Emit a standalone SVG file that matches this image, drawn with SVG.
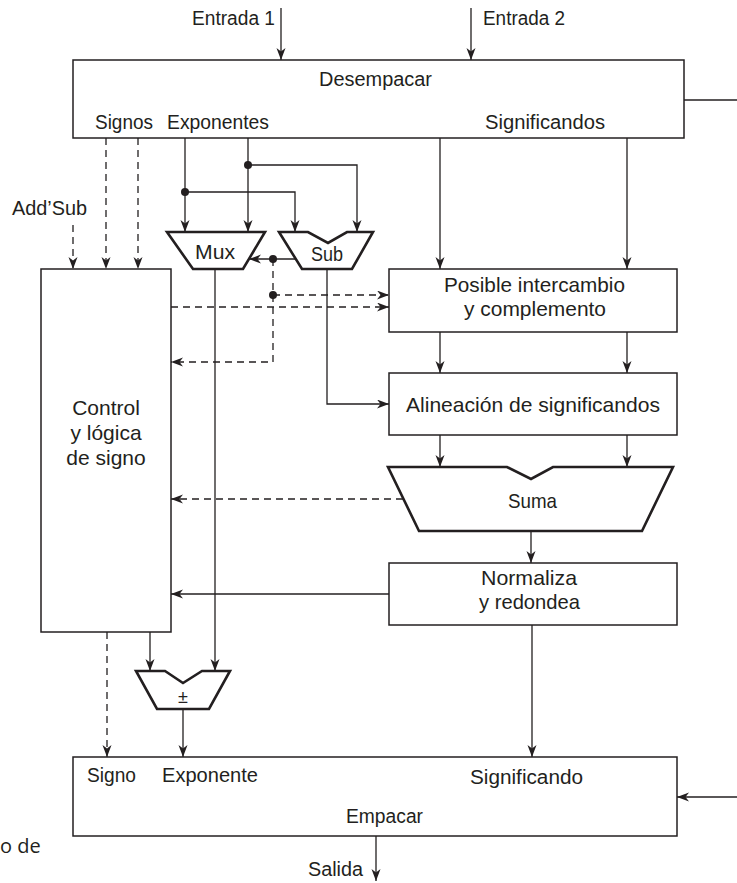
<svg xmlns="http://www.w3.org/2000/svg" width="737" height="883" viewBox="0 0 737 883">
<style>
text{font-family:"Liberation Sans",Arial,sans-serif;font-size:20px;fill:#231f20}
.m{font-size:21px}
.c{text-anchor:middle}
.box{fill:#fff;stroke:#231f20;stroke-width:1.5}
.trap{fill:#fff;stroke:#231f20;stroke-width:2.6;stroke-linejoin:miter}
.ln{fill:none;stroke:#231f20;stroke-width:1.3}
.da{fill:none;stroke:#231f20;stroke-width:1.3;stroke-dasharray:7 5}
.ar{marker-end:url(#ah)}
.dot{fill:#231f20}
</style>
<defs>
<marker id="ah" markerUnits="userSpaceOnUse" markerWidth="13" markerHeight="10" refX="12" refY="4.5" orient="auto">
<path d="M0,0 L12,4.5 L0,9 L3.5,4.5 Z" fill="#231f20"/>
</marker>
</defs>
<rect width="737" height="883" fill="#fff"/>

<g id="connectors">
<path class="ln ar" d="M281,8 V60"/>
<path class="ln ar" d="M471,8 V60"/>
<path class="ln" d="M684,100 H737"/>
<path class="ln ar" d="M185,138 V232"/>
<path class="ln ar" d="M248,138 V232"/>
<path class="ln ar" d="M248,165 H357 V232"/>
<path class="ln ar" d="M185,192 H295 V232"/>
<path class="ln ar" d="M296,259 H249"/>
<path class="ln ar" d="M440,138 V269"/>
<path class="ln ar" d="M627,138 V269"/>
<path class="ln ar" d="M440,332 V373"/>
<path class="ln ar" d="M627,332 V373"/>
<path class="ln ar" d="M327,269 V404 H389"/>
<path class="ln ar" d="M440,435 V467"/>
<path class="ln ar" d="M627,435 V467"/>
<path class="ln ar" d="M531,531 V563"/>
<path class="ln ar" d="M389,594 H171"/>
<path class="ln ar" d="M532,625 V757"/>
<path class="ln ar" d="M215,269 V671"/>
<path class="ln ar" d="M150,632 V671"/>
<path class="ln ar" d="M183,709 V757"/>
<path class="ln ar" d="M737,797 H677"/>
<path class="ln ar" d="M376,836 V881"/>
<path class="da ar" d="M73,225 V269"/>
<path class="da ar" d="M106,138 V269"/>
<path class="da ar" d="M138,138 V269"/>
<path class="da ar" d="M273,259 V362 H171"/>
<path class="da ar" d="M273,295 H389"/>
<path class="da ar" d="M171,307 H389"/>
<path class="da ar" d="M403,499 H171"/>
<path class="da ar" d="M107,632 V757"/>
<circle class="dot" cx="248" cy="165" r="4"/>
<circle class="dot" cx="185" cy="192" r="4"/>
<circle class="dot" cx="273" cy="259" r="4"/>
<circle class="dot" cx="273" cy="295" r="4"/>
</g>

<g id="inputs">
<text x="192" y="25" textLength="83" lengthAdjust="spacingAndGlyphs">Entrada 1</text>
<text x="483" y="25" textLength="82" lengthAdjust="spacingAndGlyphs">Entrada 2</text>
<text x="12" y="215" textLength="75" lengthAdjust="spacingAndGlyphs">Add’Sub</text>
</g>

<g id="desempacar">
<rect class="box" x="73" y="60" width="611" height="78"/>
<text x="319" y="86" textLength="113" lengthAdjust="spacingAndGlyphs">Desempacar</text>
<text x="95" y="129" textLength="58" lengthAdjust="spacingAndGlyphs">Signos</text>
<text x="167" y="129" textLength="102" lengthAdjust="spacingAndGlyphs">Exponentes</text>
<text x="485" y="129" textLength="120" lengthAdjust="spacingAndGlyphs">Significandos</text>
</g>

<g id="mux">
<polygon class="trap" points="167,232 265,232 243,269 193,269"/>
<text x="195" y="259" textLength="40" lengthAdjust="spacingAndGlyphs">Mux</text>
</g>

<g id="sub">
<polygon class="trap" points="279,232 308,232 328,243 347,232 373,232 352,269 302,269"/>
<text x="311" y="261" textLength="32" lengthAdjust="spacingAndGlyphs">Sub</text>
</g>

<g id="control">
<rect class="box" x="41" y="269" width="130" height="363"/>
<text class="c m" x="106" y="415">Control</text>
<text class="c m" x="106" y="440">y lógica</text>
<text class="c m" x="106" y="465">de signo</text>
</g>

<g id="posible">
<rect class="box" x="389" y="269" width="288" height="63"/>
<text class="m" x="444" y="292" textLength="181" lengthAdjust="spacingAndGlyphs">Posible intercambio</text>
<text class="m" x="464" y="316" textLength="142" lengthAdjust="spacingAndGlyphs">y complemento</text>
</g>

<g id="alineacion">
<rect class="box" x="389" y="373" width="288" height="62"/>
<text class="m" x="406" y="412" textLength="254" lengthAdjust="spacingAndGlyphs">Alineación de significandos</text>
</g>

<g id="suma">
<polygon class="trap" points="388,467 507,467 531,479 553,467 673,467 642,531 419,531"/>
<text class="m" x="508" y="508" textLength="49" lengthAdjust="spacingAndGlyphs">Suma</text>
</g>

<g id="normaliza">
<rect class="box" x="389" y="563" width="288" height="62"/>
<text class="m" x="481" y="585" textLength="96" lengthAdjust="spacingAndGlyphs">Normaliza</text>
<text class="m" x="479" y="609" textLength="101" lengthAdjust="spacingAndGlyphs">y redondea</text>
</g>

<g id="pm">
<polygon class="trap" points="136,671 165,671 183,683 202,671 230,671 209,709 157,709"/>
<text class="c" x="183" y="703" style="font-size:18px">±</text>
</g>

<g id="empacar">
<rect class="box" x="73" y="757" width="604" height="79"/>
<text x="87" y="782" textLength="49" lengthAdjust="spacingAndGlyphs">Signo</text>
<text x="162" y="782" textLength="96" lengthAdjust="spacingAndGlyphs">Exponente</text>
<text x="470" y="784" textLength="113" lengthAdjust="spacingAndGlyphs">Significando</text>
<text x="346" y="823" textLength="77" lengthAdjust="spacingAndGlyphs">Empacar</text>
</g>

<g id="output">
<text x="308" y="876" textLength="55" lengthAdjust="spacingAndGlyphs">Salida</text>
</g>

<text x="0" y="853" style="font-family:'Open Sans',sans-serif;font-size:20px">o de</text>
</svg>
